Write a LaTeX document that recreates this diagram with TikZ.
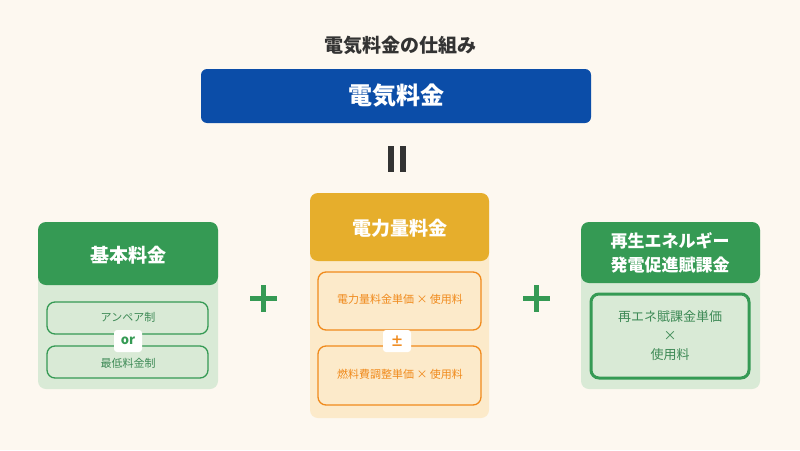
\documentclass[tikz,border=0pt]{standalone}
\usepackage{fontspec}
\setmainfont{Noto Sans CJK JP}
\definecolor{bg}{HTML}{FDF8F0}
\definecolor{navy}{HTML}{0B4DA8}
\definecolor{leaf}{HTML}{359A54}
\definecolor{leafpale}{HTML}{D9EAD6}
\definecolor{leaftext}{HTML}{3E8A56}
\definecolor{amber}{HTML}{E6AE2C}
\definecolor{amberpale}{HTML}{FCEACA}
\definecolor{orng}{HTML}{F08A1C}
\definecolor{ink}{HTML}{333333}
\begin{document}
\begin{tikzpicture}[x=1pt,y=-1pt]
  \tikzstyle{panel}=[rounded corners=8pt]
  \tikzstyle{item}=[rounded corners=8pt, line width=1.3pt]
  \tikzstyle{small}=[font=\fontsize{11}{13}\selectfont]
  \tikzstyle{head}=[font=\bfseries\fontsize{19}{23}\selectfont, text=white, align=center]
  \tikzstyle{tag}=[fill=white, rounded corners=3pt, minimum width=28pt, minimum height=22pt, font=\bfseries\fontsize{13}{15}\selectfont]
  \tikzstyle{plus}=[leaf, line width=5pt]

  \fill[bg] (0,0) rectangle (800,450);
  \node[font=\bfseries\fontsize{19}{22}\selectfont, text=ink] (title) at (400,45) {電気料金の仕組み};

  % total
  \fill[navy, rounded corners=6pt] (201,69) rectangle (591,123);
  \node[head, font=\bfseries\fontsize{24}{28}\selectfont] (total) at (396,96) {電気料金};
  \fill[ink] (388,146) rectangle (394,172);
  \fill[ink] (400,146) rectangle (406,172);

  % basic
  \fill[leafpale, panel] (38,222) rectangle (218,389);
  \fill[leaf, rounded corners=8pt] (38,285) -- (38,222) -- (218,222) -- (218,285) -- cycle;
  \node[head] (basic) at (128,255) {基本料金};
  \draw[leaf, item] (47,302) rectangle (208,334);
  \draw[leaf, item] (47,346) rectangle (208,378);
  \node[text=leaftext, small] (ampere) at (128,317) {アンペア制};
  \node[text=leaftext, small] (minimum) at (128,363) {最低料金制};
  \node[tag, text=leaf] (or) at (128,341) {or};

  \draw[plus] (250,298) -- (277,298) (263.5,285) -- (263.5,312);

  % energy
  \fill[amberpale, panel] (310,193) rectangle (489,418);
  \fill[amber, rounded corners=8pt] (310,261) -- (310,193) -- (489,193) -- (489,261) -- cycle;
  \node[head] (energy) at (400,228) {電力量料金};
  \draw[orng, item] (318,272) rectangle (481,330);
  \draw[orng, item] (318,346) rectangle (481,405);
  \node[text=orng, small] (unit) at (400,299) {電力量料金単価 × 使用料};
  \node[text=orng, small] (fuel) at (400,374) {燃料費調整単価 × 使用料};
  \node[tag, text=orng] (pm) at (397,341) {±};

  \draw[plus] (523,298) -- (550,298) (536.5,285) -- (536.5,312);

  % renewable
  \fill[leafpale, panel] (581,222) rectangle (760,389);
  \fill[leaf, rounded corners=8pt] (581,283) -- (581,222) -- (760,222) -- (760,283) -- cycle;
  \node[head, font=\bfseries\fontsize{17}{24}\selectfont] (renew) at (670,253) {再生エネルギー\\発電促進賦課金};
  \draw[leaf, item, line width=3pt] (591,294) rectangle (749,378);
  \node[text=leaftext, align=center, font=\fontsize{13}{19}\selectfont] (levy) at (670,336) {再エネ賦課金単価\\×\\使用料};
\end{tikzpicture}
\end{document}
